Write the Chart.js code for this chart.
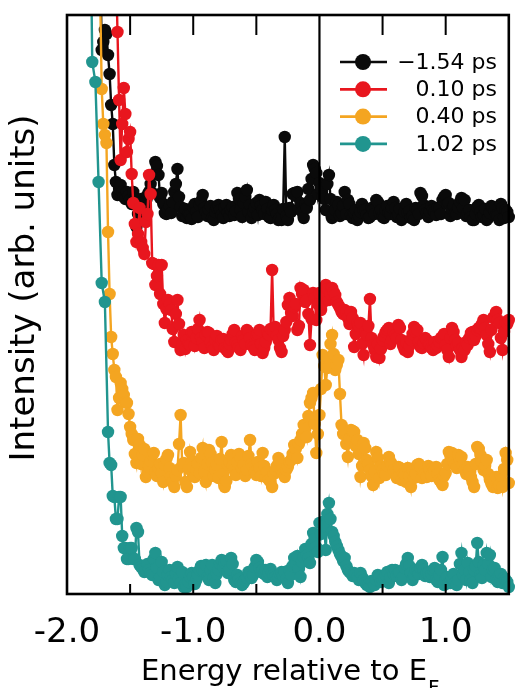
<!DOCTYPE html>
<html><head><meta charset="utf-8">
<script src="https://cdn.jsdelivr.net/npm/chart.js@4/dist/chart.umd.min.js"></script>
<style>html,body{margin:0;padding:0;background:#fff;} #wrap{width:515px;height:688px;position:relative;}</style>
</head><body><div id="wrap"><canvas id="c" width="515" height="688"></canvas></div>
<script>
// Energy grid (eV, relative to E_F)
const energy = [
-1.825,-1.800,-1.775,-1.750,-1.725,-1.700,-1.675,-1.650,-1.625,-1.600,
-1.575,-1.550,-1.525,-1.500,-1.475,-1.450,-1.425,-1.400,-1.375,-1.350,
-1.325,-1.300,-1.275,-1.250,-1.225,-1.200,-1.175,-1.150,-1.125,-1.100,
-1.075,-1.050,-1.025,-1.000,-0.975,-0.950,-0.925,-0.900,-0.875,-0.850,
-0.825,-0.800,-0.775,-0.750,-0.725,-0.700,-0.675,-0.650,-0.625,-0.600,
-0.575,-0.550,-0.525,-0.500,-0.475,-0.450,-0.425,-0.400,-0.375,-0.350,
-0.325,-0.300,-0.275,-0.250,-0.225,-0.200,-0.175,-0.150,-0.125,-0.100,
-0.075,-0.050,-0.025,0.000,0.025,0.050,0.075,0.100,0.125,0.150,
0.175,0.200,0.225,0.250,0.275,0.300,0.325,0.350,0.375,0.400,
0.425,0.450,0.475,0.500,0.525,0.550,0.575,0.600,0.625,0.650,
0.675,0.700,0.725,0.750,0.775,0.800,0.825,0.850,0.875,0.900,
0.925,0.950,0.975,1.000,1.025,1.050,1.075,1.100,1.125,1.150,
1.175,1.200,1.225,1.250,1.275,1.300,1.325,1.350,1.375,1.400,
1.425,1.450,1.475,1.500];

// Intermediate energies (between grid points)
const energyMid = [
-1.8125,-1.7875,-1.7625,-1.7375,-1.7125,-1.6875,-1.6625,-1.6375,-1.6125,-1.5875,
-1.5625,-1.5375,-1.5125,-1.4875,-1.4625,-1.4375,-1.4125,-1.3875,-1.3625,-1.3375,
-1.3125,-1.2875,-1.2625,-1.2375,-1.2125,-1.1875,-1.1625,-1.1375,-1.1125,-1.0875,
-1.0625,-1.0375,-1.0125,-0.9875,-0.9625,-0.9375,-0.9125,-0.8875,-0.8625,-0.8375,
-0.8125,-0.7875,-0.7625,-0.7375,-0.7125,-0.6875,-0.6625,-0.6375,-0.6125,-0.5875,
-0.5625,-0.5375,-0.5125,-0.4875,-0.4625,-0.4375,-0.4125,-0.3875,-0.3625,-0.3375,
-0.3125,-0.2875,-0.2625,-0.2375,-0.2125,-0.1875,-0.1625,-0.1375,-0.1125,-0.0875,
-0.0625,-0.0375,-0.0125,0.0125,0.0375,0.0625,0.0875,0.1125,0.1375,0.1625,
0.1875,0.2125,0.2375,0.2625,0.2875,0.3125,0.3375,0.3625,0.3875,0.4125,
0.4375,0.4625,0.4875,0.5125,0.5375,0.5625,0.5875,0.6125,0.6375,0.6625,
0.6875,0.7125,0.7375,0.7625,0.7875,0.8125,0.8375,0.8625,0.8875,0.9125,
0.9375,0.9625,0.9875,1.0125,1.0375,1.0625,1.0875,1.1125,1.1375,1.1625,
1.1875,1.2125,1.2375,1.2625,1.2875,1.3125,1.3375,1.3625,1.3875,1.4125,
1.4375,1.4625,1.4875];

const seriesLabels = ['\u22121.54 ps', '0.10 ps', '0.40 ps', '1.02 ps'];
const seriesColors = ['#0a0a0a', '#e8161e', '#f4a521', '#21958f'];

// Intensities (arb. units, vertically offset curves) on the main grid
const intensityM154 = [
null,null,null,744,544,564,539,489,429,399,409,
397,402,394,402,367,391,384,394,402,401,
432,419,401,381,384,381,402,425,387,381,
376,379,387,382,389,399,382,384,376,382,
389,379,386,381,384,379,401,384,391,404,
389,382,391,394,384,392,377,384,384,374,
374,457,374,382,401,402,391,376,386,394,
429,421,411,397,384,419,376,384,389,381,
402,394,379,381,374,382,384,379,377,384,
394,381,377,384,381,386,386,379,374,382,
381,376,374,384,401,389,381,382,384,379,
386,394,399,391,384,381,386,396,394,381,
377,374,387,382,379,374,381,386,379,374,
386,384,377];

const intensity010 = [
null,null,null,null,null,null,null,null,694,562,434,
506,442,462,391,352,386,346,372,419,331,
309,329,329,271,294,284,252,294,244,259,
254,249,262,256,274,252,259,261,247,254,
249,254,246,242,254,264,249,244,254,264,
256,247,259,264,241,252,259,324,267,254,
242,264,289,281,287,264,306,304,294,249,
301,274,301,291,309,294,306,299,289,282,
284,276,282,247,271,271,239,259,295,249,
237,236,254,262,266,254,259,269,254,244,
242,254,267,264,247,251,254,249,244,246,
252,257,249,237,266,254,251,237,244,249,
261,254,264,266,274,259,242,276,282,271,
244,272,274];

const intensity040 = [
null,null,null,694,505,459,362,257,224,184,211,
199,191,167,154,131,149,139,117,127,139,
122,126,121,129,139,117,107,124,179,131,
107,142,127,124,121,146,112,144,131,124,
116,152,107,129,139,124,132,136,129,124,
154,127,119,126,141,117,114,107,124,136,
124,117,127,134,149,136,154,169,157,191,
201,141,179,239,209,236,259,224,234,169,
164,137,164,162,154,117,151,134,124,109,
142,116,124,119,137,129,121,127,114,119,
126,107,116,129,127,122,117,124,126,127,
114,109,121,142,141,129,139,137,124,127,
117,107,147,139,124,134,114,107,117,109,
107,141,111];

const intensity102 = [
794,532,512,412,311,292,162,129,97,75,97,
46,35,46,35,66,29,25,24,24,19,
41,14,32,9,19,17,11,27,11,7,
7,17,17,14,24,24,29,14,29,11,
24,34,31,21,36,14,19,11,11,16,
19,19,34,26,24,24,21,21,17,17,
22,22,11,19,36,38,17,37,39,31,
61,47,71,72,44,91,62,52,44,37,
36,24,21,21,17,21,14,9,7,11,
14,17,14,19,11,24,24,21,14,26,
36,21,19,22,26,24,21,17,24,14,
19,37,14,11,16,11,14,41,24,31,
14,24,51,19,29,41,39,24,14,19,
11,14,7];

// Intensities at the intermediate energies
const intensityM154Mid = [
null,null,null,null,552,560,520,470,412,405,
402,395,398,390,395,380,395,388,399,410,
420,428,396,390,380,388,392,410,397,378,
385,380,375,390,377,393,386,378,388,374,
386,384,376,389,378,387,383,395,377,397,
382,376,386,379,388,380,385,376,389,380,
376,385,378,386,400,398,385,382,390,405,
415,425,400,405,395,410,395,380,392,378,
388,380,390,376,384,378,390,384,376,386,
380,392,384,376,388,380,392,377,385,376,
390,383,378,386,380,398,384,377,388,382,
386,380,397,390,378,388,380,392,386,378,
384,374,380,389,377,385,376,388,383,378,
390,376,382];

const intensity010Mid = [
null,null,null,null,null,null,null,null,null,494,
470,480,455,420,370,360,352,340,380,400,
330,318,300,290,285,290,265,280,270,250,
245,250,262,248,265,256,246,262,252,244,
258,248,255,244,250,260,252,246,258,250,
262,249,244,260,250,246,262,265,262,258,
246,258,272,296,278,290,268,300,292,280,
275,296,290,284,296,305,300,302,292,286,
280,282,270,276,260,268,250,262,268,256,
244,250,245,258,264,250,262,256,266,248,
252,248,260,262,252,246,256,250,246,252,
248,256,260,244,256,262,248,244,246,252,
256,262,258,266,270,266,250,264,278,274,
256,262,270];

const intensity040Mid = [
null,null,null,null,470,451,300,240,217,196,
205,192,180,160,140,155,130,145,122,133,
141,118,130,112,135,126,112,118,150,128,
112,125,133,117,130,136,122,130,140,118,
129,135,120,113,132,128,119,140,125,118,
138,130,122,132,118,128,122,112,120,128,
132,120,124,132,140,145,150,160,165,178,
196,170,160,205,228,226,250,240,229,200,
160,150,155,163,148,140,128,146,130,118,
122,136,128,120,128,132,124,116,126,120,
112,118,124,120,130,116,120,128,118,124,
120,112,118,130,138,132,126,134,128,120,
124,112,130,145,132,128,120,110,114,106,
118,125,134];

const intensity102Mid = [
null,null,null,null,null,null,131,98,75,97,
58,46,35,46,35,62,27,22,30,21,
35,26,16,22,12,24,14,20,15,22,
10,12,21,10,19,28,22,17,24,16,
20,30,27,33,25,30,12,15,9,14,
22,16,27,32,22,20,17,25,19,14,
20,18,15,24,28,30,25,32,45,36,
50,55,42,60,68,80,75,58,48,40,
33,28,22,18,20,14,17,11,9,13,
9,19,12,16,22,17,20,18,21,17,
30,28,14,24,20,29,18,21,20,26,
12,24,9,17,11,20,9,30,19,14,
22,11,28,32,16,24,30,17,26,12,
20,16,12];

const tickValues = [-2.0, -1.5, -1.0, -0.5, 0.0, 0.5, 1.0, 1.5];
const tickLabels = ['-2.0', '', '-1.0', '', '0.0', '', '1.0', ''];
const xTitleMain = 'Energy relative to E';
const xTitleSub = 'F';
const yTitle = 'Intensity (arb. units)';

const FONT = '"DejaVu Sans", "Liberation Sans", Arial, sans-serif';
Chart.defaults.font.family = FONT;
Chart.defaults.color = '#000';

function buildPoints(main, mid) {
  const pts = [];
  for (let k = 0; k < energy.length; k++) {
    if (main[k] !== null) pts.push({x: energy[k], y: main[k]});
    if (k < energyMid.length && mid[k] !== null) pts.push({x: energyMid[k], y: mid[k]});
  }
  return pts;
}

function makeDataset(label, main, mid, color, order) {
  return {
    label: label,
    data: buildPoints(main, mid),
    borderColor: color,
    backgroundColor: color,
    pointBackgroundColor: color,
    pointBorderColor: color,
    pointBorderWidth: 0,
    pointRadius: 6.2,
    pointHoverRadius: 6.2,
    borderWidth: 2.4,
    tension: 0,
    order: order,
    clip: {left: 8, top: 0, right: 8, bottom: 8}
  };
}

const framePlugin = {
  id: 'frame',
  afterDatasetsDraw(chart) {
    const ctx = chart.ctx, a = chart.chartArea, xs = chart.scales.x;
    ctx.save();
    ctx.strokeStyle = '#000';
    ctx.lineWidth = 2.2;
    const x0 = xs.getPixelForValue(0);
    ctx.beginPath(); ctx.moveTo(x0, a.top); ctx.lineTo(x0, a.bottom); ctx.stroke();
    ctx.lineWidth = 2;
    tickValues.forEach(v => {
      const px = xs.getPixelForValue(v);
      if (px <= a.left + 1 || px >= a.right - 1 || v === 0) return;
      ctx.beginPath();
      ctx.moveTo(px, a.top); ctx.lineTo(px, a.top + 20);
      ctx.moveTo(px, a.bottom); ctx.lineTo(px, a.bottom - 10);
      ctx.stroke();
    });
    ctx.lineWidth = 2.6;
    ctx.strokeRect(a.left, a.top, a.right - a.left, a.bottom - a.top);
    ctx.restore();
  },
  afterDraw(chart) {
    const ctx = chart.ctx;
    ctx.save();
    // legend
    seriesLabels.forEach((lab, i) => {
      const y = 62 + i * 27.3;
      ctx.strokeStyle = seriesColors[i];
      ctx.lineWidth = 2.7;
      ctx.beginPath(); ctx.moveTo(340, y); ctx.lineTo(387, y); ctx.stroke();
      ctx.fillStyle = seriesColors[i];
      ctx.beginPath(); ctx.arc(363, y, 8, 0, Math.PI * 2); ctx.fill();
      ctx.fillStyle = '#000';
      ctx.font = '22px ' + FONT;
      ctx.textAlign = 'right';
      ctx.textBaseline = 'middle';
      ctx.fillText(lab, 497, y + 1);
    });
    // x title with subscript
    ctx.fillStyle = '#000';
    ctx.textAlign = 'left';
    ctx.textBaseline = 'alphabetic';
    ctx.font = '29px ' + FONT;
    const w = ctx.measureText(xTitleMain).width;
    const xStart = 284 - w / 2;
    ctx.fillText(xTitleMain, xStart, 680);
    ctx.font = '20px ' + FONT;
    ctx.fillText(xTitleSub, xStart + w + 1, 694);
    // y title
    ctx.translate(25, 288);
    ctx.rotate(-Math.PI / 2);
    ctx.font = '34px ' + FONT;
    ctx.textAlign = 'center';
    ctx.textBaseline = 'middle';
    ctx.fillText(yTitle, 0, 0);
    ctx.restore();
  }
};

new Chart(document.getElementById('c'), {
  type: 'line',
  data: {
    datasets: [
      makeDataset(seriesLabels[0], intensityM154, intensityM154Mid, seriesColors[0], 3),
      makeDataset(seriesLabels[1], intensity010, intensity010Mid, seriesColors[1], 2),
      makeDataset(seriesLabels[2], intensity040, intensity040Mid, seriesColors[2], 1),
      makeDataset(seriesLabels[3], intensity102, intensity102Mid, seriesColors[3], 0)
    ]
  },
  options: {
    responsive: false,
    animation: false,
    events: [],
    devicePixelRatio: 1,
    layout: {padding: {left: 0, right: 5, top: 15, bottom: 0}},
    plugins: {legend: {display: false}, tooltip: {enabled: false}},
    scales: {
      x: {
        type: 'linear', min: -2.0, max: 1.5,
        afterBuildTicks(scale) { scale.ticks = tickValues.map(v => ({value: v})); },
        afterFit(scale) { scale.height = 94; },
        grid: {display: false, drawTicks: true, tickLength: 19},
        border: {display: false},
        ticks: {
          autoSkip: false, maxRotation: 0, padding: 0,
          font: {size: 34, family: FONT},
          color: '#000',
          callback: (v) => { const i = tickValues.findIndex(t => Math.abs(t - v) < 1e-9); return i >= 0 ? tickLabels[i] : ''; }
        }
      },
      y: {
        type: 'linear', min: 0, max: 579,
        afterFit(scale) { scale.width = 67; },
        grid: {display: false, drawTicks: false},
        border: {display: false},
        ticks: {display: false}
      }
    }
  },
  plugins: [framePlugin]
});
</script>
</body></html>
